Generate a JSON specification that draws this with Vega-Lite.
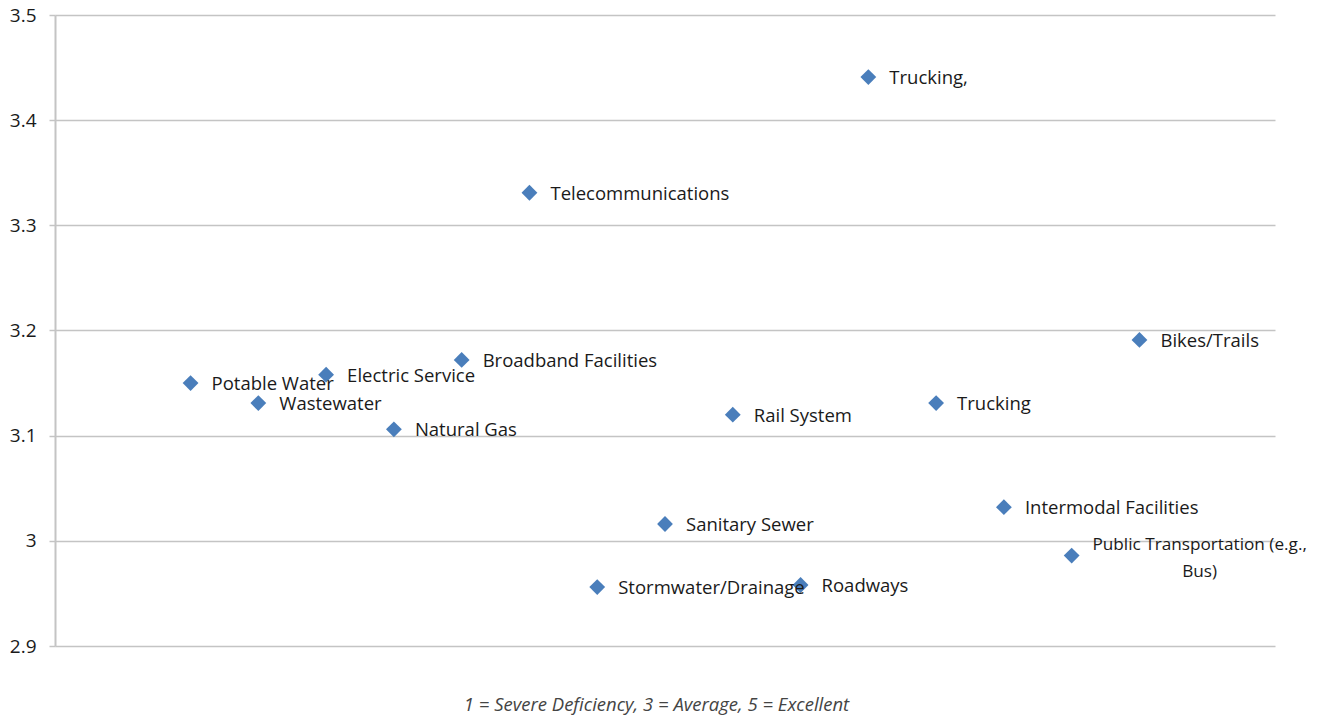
{
  "$schema": "https://vega.github.io/schema/vega-lite/v6.json",
  "width": 1220,
  "height": 631,
  "autosize": {"type": "none"},
  "padding": {"left": 55, "top": 15, "right": 68, "bottom": 71},
  "background": "white",
  "config": {
    "view": {"stroke": null},
    "font": "Open Sans"
  },
  "data": {
    "values": [
      {"i": 2, "score": 3.150, "label": "Potable Water", "multi": false},
      {"i": 3, "score": 3.131, "label": "Wastewater", "multi": false},
      {"i": 4, "score": 3.158, "label": "Electric Service", "multi": false},
      {"i": 5, "score": 3.106, "label": "Natural Gas", "multi": false},
      {"i": 6, "score": 3.172, "label": "Broadband Facilities", "multi": false},
      {"i": 7, "score": 3.331, "label": "Telecommunications", "multi": false},
      {"i": 8, "score": 2.956, "label": "Stormwater/Drainage", "multi": false},
      {"i": 9, "score": 3.016, "label": "Sanitary Sewer", "multi": false},
      {"i": 10, "score": 3.120, "label": "Rail System", "multi": false},
      {"i": 11, "score": 2.958, "label": "Roadways", "multi": false},
      {"i": 12, "score": 3.441, "label": "Trucking,", "multi": false},
      {"i": 13, "score": 3.131, "label": "Trucking", "multi": false},
      {"i": 14, "score": 3.032, "label": "Intermodal Facilities", "multi": false},
      {"i": 15, "score": 2.986, "label": "Public Transportation (e.g.,\nBus)", "multi": true},
      {"i": 16, "score": 3.191, "label": "Bikes/Trails", "multi": false}
    ]
  },
  "encoding": {
    "x": {
      "field": "i",
      "type": "quantitative",
      "scale": {"domain": [0, 18]},
      "axis": {
        "labels": false,
        "ticks": false,
        "grid": false,
        "domain": false,
        "title": "1 = Severe Deficiency, 3 = Average, 5 = Excellent",
        "titleFont": "Open Sans",
        "titleFontSize": 18.5,
        "titleFontStyle": "italic",
        "titleFontWeight": "normal",
        "titleColor": "#444444",
        "titleX": 601,
        "titleY": 64,
        "titleAnchor": "middle",
        "titleAlign": "center",
        "titleBaseline": "alphabetic"
      }
    },
    "y": {
      "field": "score",
      "type": "quantitative",
      "scale": {"domain": [2.9, 3.5], "nice": false, "zero": false},
      "axis": {
        "values": [2.9, 3.0, 3.1, 3.2, 3.3, 3.4, 3.5],
        "format": "~g",
        "title": null,
        "grid": true,
        "gridColor": "#c4c4c4",
        "gridWidth": 1.5,
        "domainColor": "#c4c4c4",
        "domainWidth": 2,
        "tickColor": "#c4c4c4",
        "tickSize": 6,
        "tickWidth": 1.5,
        "labelFont": "Open Sans",
        "labelFontSize": 19,
        "labelColor": "#1a1a1a",
        "labelPadding": 13
      }
    }
  },
  "layer": [
    {
      "mark": {"type": "point", "shape": "diamond", "filled": true, "size": 250, "color": "#4a7ebb", "opacity": 1}
    },
    {
      "transform": [{"filter": "!datum.multi"}],
      "mark": {"type": "text", "align": "left", "baseline": "middle", "dx": 21, "dy": 1, "fontSize": 18.5, "font": "Open Sans", "color": "#1a1a1a"},
      "encoding": {"text": {"field": "label"}}
    },
    {
      "transform": [{"filter": "datum.multi"}],
      "mark": {"type": "text", "align": "center", "baseline": "middle", "dx": 128, "dy": -11, "fontSize": 17.2, "font": "Open Sans", "color": "#1a1a1a", "lineBreak": "\n", "lineHeight": 27},
      "encoding": {"text": {"field": "label"}}
    }
  ]
}
